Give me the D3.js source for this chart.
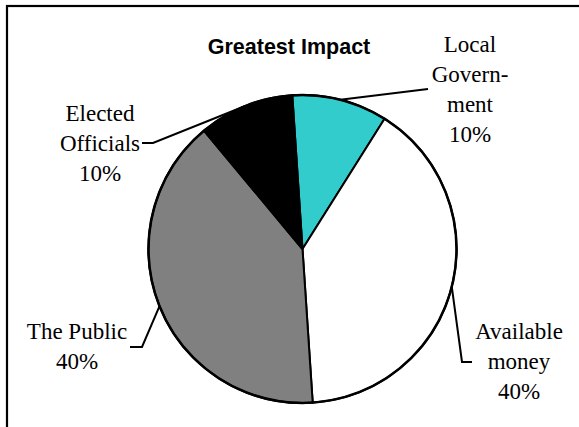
<!DOCTYPE html>
<html>
<head>
<meta charset="utf-8">
<script src="https://cdn.jsdelivr.net/npm/d3@7"></script>
<style>
  html, body { margin: 0; padding: 0; background: #fff; }
  svg { display: block; }
</style>
</head>
<body>
<svg id="chart" width="579" height="427"></svg>
<script>
// Share of "greatest impact" by group, in slice order clockwise from the top
const categories = ["Local Government", "Available money", "The Public", "Elected Officials"];
const shares = [10, 40, 40, 10];
const labelLines = [
  ["Local", "Govern-", "ment", "10%"],
  ["Available", "money", "40%"],
  ["The Public", "40%"],
  ["Elected", "Officials", "10%"]
];
const sliceColors = ["#33CCCC", "#FFFFFF", "#808080", "#000000"];

const svg = d3.select("#chart");
const W = 579, H = 427;

// chart area border (continues past the right and bottom edges)
svg.append("rect")
  .attr("x", 7).attr("y", 6)
  .attr("width", 600).attr("height", 460)
  .attr("fill", "#fff")
  .attr("stroke", "#000")
  .attr("stroke-width", 2.2);

// title
svg.append("text")
  .attr("x", 289).attr("y", 54)
  .attr("text-anchor", "middle")
  .attr("font-family", "Liberation Sans, Arial, sans-serif")
  .attr("font-weight", "bold")
  .attr("font-size", 21.5)
  .text("Greatest Impact");

const cx = 302.5, cy = 249, R = 154;
const offset = -3.8 * Math.PI / 180;

const pie = d3.pie().value(d => d).sort(null)
  .startAngle(offset).endAngle(offset + 2 * Math.PI);
const arcs = pie(shares);
const arc = d3.arc().innerRadius(0).outerRadius(R);
const rim = d3.arc().innerRadius(R).outerRadius(R);

const g = svg.append("g").attr("transform", `translate(${cx},${cy})`);

g.selectAll("path.slice")
  .data(arcs)
  .join("path")
  .attr("class", "slice")
  .attr("d", arc)
  .attr("fill", (d, i) => sliceColors[i])
  .attr("stroke", "#000")
  .attr("stroke-width", 2)
  .attr("stroke-linejoin", "round");

// outer outline
g.append("circle").attr("r", R)
  .attr("fill", "none").attr("stroke", "#000").attr("stroke-width", 2.5);

// label placement: text centre, first baseline, leader elbow points (page coords)
const layout = [
  { x: 470, y: 52,  leader: [[428, 89]] },
  { x: 519, y: 339, leader: [[462, 362], [472, 362]] },
  { x: 77,  y: 339, leader: [[142, 347], [130, 347]] },
  { x: 100, y: 121, leader: [[153, 143], [142, 143]] }
];
const lineGap = 30;

arcs.forEach((a, i) => {
  const m = rim.centroid(a);
  const pts = [[cx + m[0], cy + m[1]]].concat(layout[i].leader);
  svg.append("path")
    .attr("d", d3.line()(pts))
    .attr("fill", "none")
    .attr("stroke", "#000")
    .attr("stroke-width", 2);

  const t = svg.append("text")
    .attr("text-anchor", "middle")
    .attr("font-family", "Liberation Serif, 'Times New Roman', serif")
    .attr("font-size", 23)
    .attr("fill", "#000");
  labelLines[i].forEach((s, k) => {
    t.append("tspan")
      .attr("x", layout[i].x)
      .attr("y", layout[i].y + k * lineGap)
      .text(s);
  });
});
</script>
</body>
</html>
